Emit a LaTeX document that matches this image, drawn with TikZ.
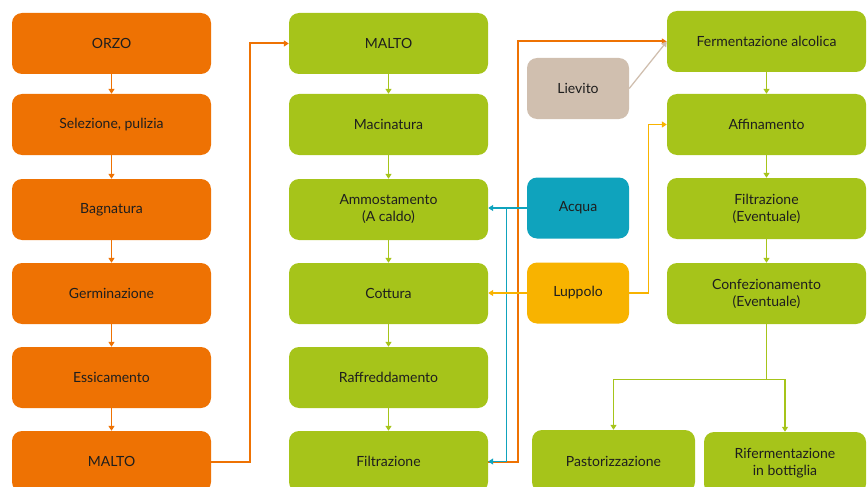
\documentclass[tikz,border=0pt]{standalone}
\usepackage{fontspec}
\setmainfont{Lato}
\usetikzlibrary{arrows.meta,calc}
\definecolor{cOr}{HTML}{EE7203}
\definecolor{cGr}{HTML}{A6C41A}
\definecolor{cBl}{HTML}{0FA3BD}
\definecolor{cYe}{HTML}{F8B300}
\definecolor{cBe}{HTML}{D0BFAF}
\definecolor{cTx}{HTML}{1E1E1E}
\begin{document}
\begin{tikzpicture}[x=1pt,y=-1pt,
  box/.style={rounded corners=10pt, minimum height=61pt, align=center, text=cTx,
    font=\fontsize{14}{17}\selectfont, inner sep=0pt},
  wide/.style={box, minimum width=199pt},
  orbox/.style={wide, fill=cOr},
  grbox/.style={wide, fill=cGr},
  smbox/.style={box, minimum width=102pt},
  tip/.style={-{Triangle[length=5pt,width=6pt]}},
  flow/.style={tip, line width=1.3pt},
  link/.style={tip, line width=2pt}]
\useasboundingbox (0,0) rectangle (868,487);
\clip (0,0) rectangle (868,487);
% left column
\node[orbox] (orzo) at (111.5,43.5) {ORZO};
\node[orbox] (sel) at (111.5,124.5) {Selezione, pulizia};
\node[orbox] (bag) at (111.5,209.5) {Bagnatura};
\node[orbox] (ger) at (111.5,293.5) {Germinazione};
\node[orbox] (ess) at (111.5,377.5) {Essicamento};
\node[orbox] (maltoL) at (111.5,461.5) {MALTO};
% middle column
\node[grbox] (maltoM) at (388.5,43.5) {MALTO};
\node[grbox] (mac) at (388.5,124.5) {Macinatura};
\node[grbox] (amm) at (388.5,209.5) {Ammostamento\\(A caldo)};
\node[grbox] (cot) at (388.5,293.5) {Cottura};
\node[grbox] (raf) at (388.5,377.5) {Raffreddamento};
\node[grbox] (filt) at (388.5,461.5) {Filtrazione};
% inputs
\node[smbox, fill=cBe] (liev) at (578,88.5) {Lievito};
\node[smbox, fill=cBl] (acq) at (578,208) {Acqua};
\node[smbox, fill=cYe] (lup) at (578,293) {Luppolo};
% right column
\node[grbox] (ferm) at (766.5,41.5) {Fermentazione alcolica};
\node[grbox] (aff) at (766.5,124.5) {Affinamento};
\node[grbox] (filt2) at (766.5,208.5) {Filtrazione\\(Eventuale)};
\node[grbox] (conf) at (766.5,293.5) {Confezionamento\\(Eventuale)};
% bottom
\node[box, fill=cGr, minimum width=163pt, minimum height=62pt] (past) at (613.5,461) {Pastorizzazione};
\node[box, fill=cGr, minimum width=162pt, minimum height=62pt] (rif) at (785,463) {Rifermentazione\\in bottiglia};
% column arrows
\begin{scope}[draw=cOr]
\draw[flow] (orzo) -- (sel);
\draw[flow] (sel) -- (bag);
\draw[flow] (bag) -- (ger);
\draw[flow] (ger) -- (ess);
\draw[flow] (ess) -- (maltoL);
\end{scope}
\begin{scope}[draw=cGr]
\draw[flow] (maltoM) -- (mac);
\draw[flow] (mac) -- (amm);
\draw[flow] (amm) -- (cot);
\draw[flow] (cot) -- (raf);
\draw[flow] (raf) -- (filt);
\draw[flow] (ferm) -- (aff);
\draw[flow] (aff) -- (filt2);
\draw[flow] (filt2) -- (conf);
\draw[flow] (conf.south) -- ++(0,55) coordinate (split) -| (past.north);
\draw[flow] (split) -| (rif.north);
\end{scope}
% long links
\draw[link, draw=cOr] (maltoL.east) -- ++(39,0) |- (maltoM.west);
\draw[link, draw=cOr] (filt.east) -- ++(30,0) |- (ferm.west);
\draw[flow, draw=cBl] (acq.west) -- (acq.west -| amm.east);
\draw[flow, draw=cBl] ($(acq.west)+(-20,0)$) |- (filt.east);
\draw[flow, draw=cYe] (lup.west) -- (lup.west -| cot.east);
\draw[flow, draw=cYe] (lup.east) -- ++(19,0) |- (aff.west);
\draw[flow, draw=cBe] (liev.east) -- (ferm.west);
\end{tikzpicture}
\end{document}
